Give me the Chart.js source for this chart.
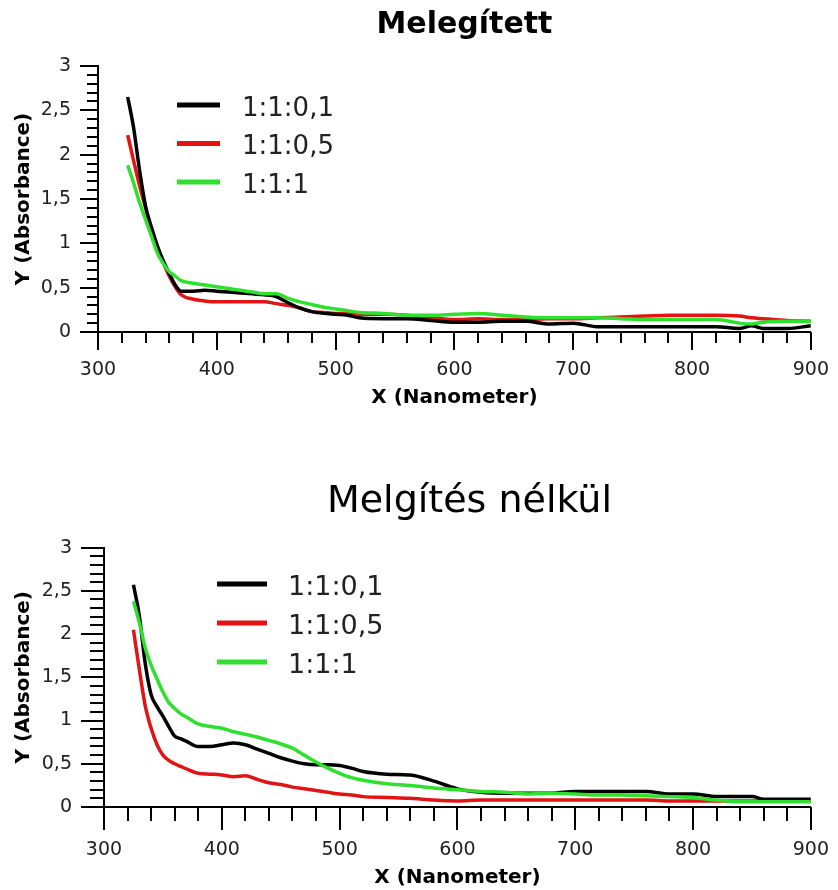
<!DOCTYPE html>
<html>
<head>
<meta charset="utf-8">
<script src="https://cdn.jsdelivr.net/npm/chart.js@4.4.1/dist/chart.umd.min.js"></script>
<style>
  html, body { margin: 0; padding: 0; background: #fff; }
  canvas { display: block; }
</style>
</head>
<body>
<canvas id="heatedChart" width="838" height="430"></canvas>
<canvas id="unheatedChart" width="838" height="460"></canvas>
<script>
// wavelength grid (nm), shared by all six curves
const wavelengths = [325, 330, 335, 340, 345, 350, 355, 360, 365, 370, 380, 390, 400, 410, 420, 430, 440, 450, 460, 470,
  480, 490, 500, 510, 520, 540, 560, 580, 600, 620, 640, 660, 680, 700, 720, 740, 760, 780, 800, 820, 840, 850, 860, 880, 900];

// "Melegített" (heated)
const heated_01 = [2.65, 2.30, 1.82, 1.42, 1.18, 0.97, 0.80, 0.66, 0.53, 0.46, 0.46, 0.47, 0.46, 0.45, 0.44, 0.43, 0.42, 0.40, 0.33, 0.27,
  0.23, 0.21, 0.20, 0.19, 0.16, 0.15, 0.15, 0.13, 0.11, 0.11, 0.12, 0.12, 0.09, 0.10, 0.06, 0.06, 0.06, 0.06, 0.06, 0.06, 0.04, 0.07, 0.04, 0.04, 0.07];
const heated_05 = [2.22, 1.93, 1.65, 1.40, 1.15, 0.96, 0.78, 0.63, 0.51, 0.42, 0.37, 0.35, 0.34, 0.34, 0.34, 0.34, 0.34, 0.32, 0.30, 0.27,
  0.23, 0.22, 0.21, 0.21, 0.20, 0.20, 0.19, 0.16, 0.14, 0.15, 0.14, 0.14, 0.15, 0.15, 0.16, 0.17, 0.18, 0.19, 0.19, 0.19, 0.18, 0.16, 0.15, 0.13, 0.12];
const heated_1 = [1.88, 1.68, 1.46, 1.27, 1.08, 0.89, 0.77, 0.68, 0.63, 0.58, 0.55, 0.53, 0.51, 0.49, 0.47, 0.45, 0.43, 0.43, 0.38, 0.34,
  0.31, 0.28, 0.26, 0.24, 0.22, 0.21, 0.19, 0.19, 0.20, 0.21, 0.19, 0.17, 0.16, 0.16, 0.16, 0.15, 0.14, 0.14, 0.14, 0.14, 0.10, 0.09, 0.11, 0.12, 0.12];

// "Melgítés nélkül" (not heated)
const unheated_01 = [2.57, 2.21, 1.66, 1.30, 1.16, 1.05, 0.93, 0.82, 0.79, 0.76, 0.70, 0.70, 0.72, 0.74, 0.72, 0.67, 0.62, 0.57, 0.53, 0.50,
  0.49, 0.49, 0.48, 0.45, 0.41, 0.38, 0.37, 0.30, 0.21, 0.17, 0.16, 0.16, 0.16, 0.18, 0.18, 0.18, 0.18, 0.15, 0.15, 0.12, 0.12, 0.12, 0.09, 0.09, 0.09];
const unheated_05 = [2.05, 1.59, 1.17, 0.91, 0.72, 0.60, 0.54, 0.50, 0.47, 0.44, 0.39, 0.38, 0.37, 0.35, 0.36, 0.32, 0.28, 0.26, 0.23, 0.21,
  0.19, 0.17, 0.15, 0.14, 0.12, 0.11, 0.10, 0.08, 0.07, 0.08, 0.08, 0.08, 0.08, 0.08, 0.08, 0.08, 0.08, 0.07, 0.07, 0.07, 0.07, 0.07, 0.07, 0.07, 0.07];
const unheated_1 = [2.38, 2.13, 1.84, 1.64, 1.48, 1.33, 1.21, 1.14, 1.08, 1.04, 0.96, 0.93, 0.91, 0.87, 0.84, 0.81, 0.77, 0.73, 0.68, 0.60,
  0.52, 0.45, 0.39, 0.34, 0.31, 0.27, 0.25, 0.22, 0.20, 0.18, 0.17, 0.15, 0.16, 0.15, 0.14, 0.14, 0.13, 0.12, 0.11, 0.08, 0.06, 0.06, 0.06, 0.06, 0.06];

const seriesLabels = ["1:1:0,1", "1:1:0,5", "1:1:1"];
const seriesColors = ["#000000", "#e01414", "#2fe02f"];
const xTickValues = [300, 400, 500, 600, 700, 800, 900];
const yTickValues = [0, 0.5, 1, 1.5, 2, 2.5, 3];

const FONT = "'DejaVu Sans', Verdana, sans-serif";

// small and big tick marks on both axes, placed with the chart's own scales
const tickMarks = {
  id: "tickMarks",
  afterLayout(chart, args, o) {
    // nudge the title block sideways (the original title is not centred on the plot)
    if (chart.titleBlock && o.titleShift) {
      chart.titleBlock.left += o.titleShift;
      chart.titleBlock.right += o.titleShift;
    }
  },
  afterDraw(chart, args, o) {
    const { ctx, scales: { x, y } } = chart;
    ctx.save();
    ctx.strokeStyle = "#000";
    ctx.lineWidth = 2;
    ctx.beginPath();
    const nx = Math.round((x.max - x.min) / 20);
    for (let i = 0; i <= nx; i++) {
      const px = Math.round(x.getPixelForValue(x.min + i * 20));
      const len = i % 5 === 0 ? o.major : o.minor;
      ctx.moveTo(px, x.top);
      ctx.lineTo(px, x.top + len);
    }
    const ny = Math.round((y.max - y.min) / 0.1);
    for (let i = 0; i <= ny; i++) {
      const py = Math.round(y.getPixelForValue(y.min + i * 0.1));
      const len = i % 5 === 0 ? o.major : o.minor;
      ctx.moveTo(y.right, py);
      ctx.lineTo(y.right - len, py);
    }
    ctx.stroke();
    ctx.restore();
  }
};

// legend drawn inside the plot, line sample + label
const insideLegend = {
  id: "insideLegend",
  afterDatasetsDraw(chart, args, o) {
    const ctx = chart.ctx;
    ctx.save();
    ctx.font = o.fontSize + "px " + FONT;
    ctx.textBaseline = "middle";
    ctx.fillStyle = "#222";
    chart.data.datasets.forEach((ds, i) => {
      const yy = o.y + i * o.gap;
      ctx.strokeStyle = ds.borderColor;
      ctx.lineWidth = 5;
      ctx.beginPath();
      ctx.moveTo(o.x, yy);
      ctx.lineTo(o.x + o.len, yy);
      ctx.stroke();
      ctx.fillText(ds.label, o.textX, yy + 4);
    });
    ctx.restore();
  }
};

function makeChart(id, title, titleFont, series, geom) {
  const datasets = series.map((vals, i) => ({
    label: seriesLabels[i],
    data: wavelengths.map((w, k) => ({ x: w, y: vals[k] })),
    borderColor: seriesColors[i],
    borderWidth: 3.5,
    pointRadius: 0,
    cubicInterpolationMode: "monotone",
    fill: false,
    order: i === 2 ? 0 : i + 1
  }));

  return new Chart(document.getElementById(id), {
    type: "line",
    data: { datasets },
    plugins: [tickMarks, insideLegend],
    options: {
      responsive: false,
      animation: false,
      devicePixelRatio: 1,
      layout: { padding: { left: 0, right: geom.right, top: 0, bottom: 0 } },
      plugins: {
        legend: { display: false },
        tooltip: { enabled: false },
        title: {
          display: true,
          text: title,
          fullSize: false,
          color: "#000",
          font: { family: FONT, size: titleFont.size, weight: titleFont.weight },
          padding: { top: geom.titleTop, bottom: geom.titleBottom }
        },
        tickMarks: { major: geom.major, minor: geom.minor, titleShift: geom.titleShift },
        insideLegend: geom.legend
      },
      scales: {
        x: {
          type: "linear",
          min: 300,
          max: 900,
          afterBuildTicks: s => { s.ticks = xTickValues.map(v => ({ value: v })); },
          afterFit: s => { s.height = geom.xHeight; },
          ticks: {
            color: "#222",
            font: { family: FONT, size: 19 },
            padding: 9,
            maxRotation: 0,
            autoSkip: false,
            callback: v => String(v)
          },
          grid: { display: true, drawOnChartArea: false, tickLength: geom.major, tickColor: "rgba(0,0,0,0)" },
          border: { display: true, color: "#000", width: 2 },
          title: {
            display: true,
            text: "X (Nanometer)",
            color: "#000",
            font: { family: FONT, size: 20, weight: "bold" },
            padding: { top: 0, bottom: geom.xTitleBottom }
          }
        },
        y: {
          min: 0,
          max: 3,
          afterBuildTicks: s => { s.ticks = yTickValues.map(v => ({ value: v })); },
          afterFit: s => { s.width = geom.yWidth; },
          ticks: {
            color: "#222",
            font: { family: FONT, size: 19 },
            padding: 9,
            autoSkip: false,
            callback: v => String(v).replace(".", ",")
          },
          grid: { display: true, drawOnChartArea: false, tickLength: geom.major, tickColor: "rgba(0,0,0,0)" },
          border: { display: true, color: "#000", width: 2 },
          title: {
            display: true,
            text: "Y (Absorbance)",
            color: "#000",
            font: { family: FONT, size: 20, weight: "bold" },
            padding: { top: 12, bottom: 0 }
          }
        }
      }
    }
  });
}

makeChart("heatedChart", "Melegített", { size: 30, weight: "bold" },
  [heated_01, heated_05, heated_1],
  {
    right: 18, titleTop: 7, titleBottom: 23, titleShift: 10, xHeight: 98, xTitleBottom: 20, yWidth: 98,
    major: 18, minor: 11,
    legend: { x: 177, len: 43, textX: 242, y: 105, gap: 38.5, fontSize: 26 }
  });

makeChart("unheatedChart", "Melgítés nélkül", { size: 38, weight: "normal" },
  [unheated_01, unheated_05, unheated_1],
  {
    right: 20, titleTop: 49, titleBottom: 23, titleShift: 12, xHeight: 83, xTitleBottom: 0, yWidth: 104,
    major: 23, minor: 14,
    legend: { x: 217, len: 50, textX: 288, y: 154, gap: 39, fontSize: 27 }
  });
</script>
</body>
</html>
